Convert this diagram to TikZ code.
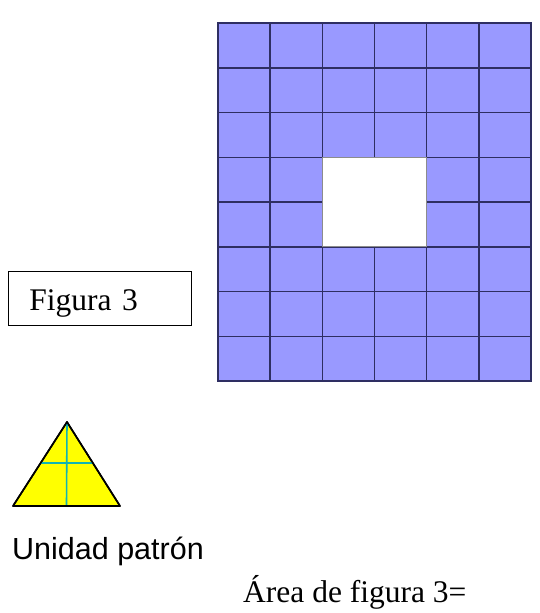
\documentclass[tikz,border=0pt]{standalone}
\usepackage{fontspec}
\setmainfont{Liberation Serif}
\newfontfamily\arialfont{Liberation Sans}
\usepackage{xcolor}
\usepackage{tikz}
\usetikzlibrary{calc,positioning}
\definecolor{figCell}{HTML}{9999FF}
\definecolor{figLine}{HTML}{2E2E62}
\definecolor{figHole}{HTML}{8C8C8C}
\definecolor{figYellow}{HTML}{FFFF00}
\definecolor{figTeal}{HTML}{10B4B4}

\begin{document}
\begin{tikzpicture}[
  x=1pt, y=-1pt,
  every node/.style={font=\fontsize{31.5}{36}\selectfont},
  cell/.style={fill=figCell, draw=figLine, line width=1.5pt},
  figbox/.style={draw, line width=0.9pt, inner xsep=21pt, inner ysep=0pt,
                 text width=141pt, align=left, minimum height=54pt,
                 text height=30pt, text depth=6pt},
  tri/.style={fill=figYellow, draw=black, line width=1.6pt, line join=round},
  mid/.style={draw=figTeal, line width=1.6pt},
]
\useasboundingbox (0,0) rectangle (539,613);

% Grid of unit squares, hole in the middle
\foreach \c in {0,...,5}
  \foreach \r in {0,...,7}{
    \pgfmathtruncatemacro\hole{(\c==2 || \c==3) && (\r==3 || \r==4)}
    \ifnum\hole=0
      \draw[cell] (218+\c*52.17, 23+\r*44.75) rectangle ++(52.17, 44.75);
    \fi
  }
\draw[figHole, line width=1pt] (322.34, 157.25) rectangle (426.68, 246.75);

% Label box
\node[figbox, anchor=west] (fig3) at (8, 298) {Figura 3};

% Unit triangle
\coordinate (apex) at (67, 422);
\coordinate (bl) at (13, 506);
\coordinate (br) at (120, 506);
\draw[tri] (apex) -- (bl) -- (br) -- cycle;
\draw[mid] ($(apex)!0.49!(bl)$) -- ($(apex)!0.49!(br)$);
\draw[mid] (apex) -- ($(bl)!0.5!(br)$);
\draw[black, line width=1.6pt, line join=round] (apex) -- (bl) -- (br) -- cycle;

% Captions
\node[anchor=base west, inner sep=0pt, font=\arialfont\fontsize{30.5}{35}\selectfont] (unit) at (12, 559) {Unidad patrón};
\node[anchor=base west, inner sep=0pt] (area) at (243, 602) {Área de figura 3=};

\end{tikzpicture}
\end{document}
